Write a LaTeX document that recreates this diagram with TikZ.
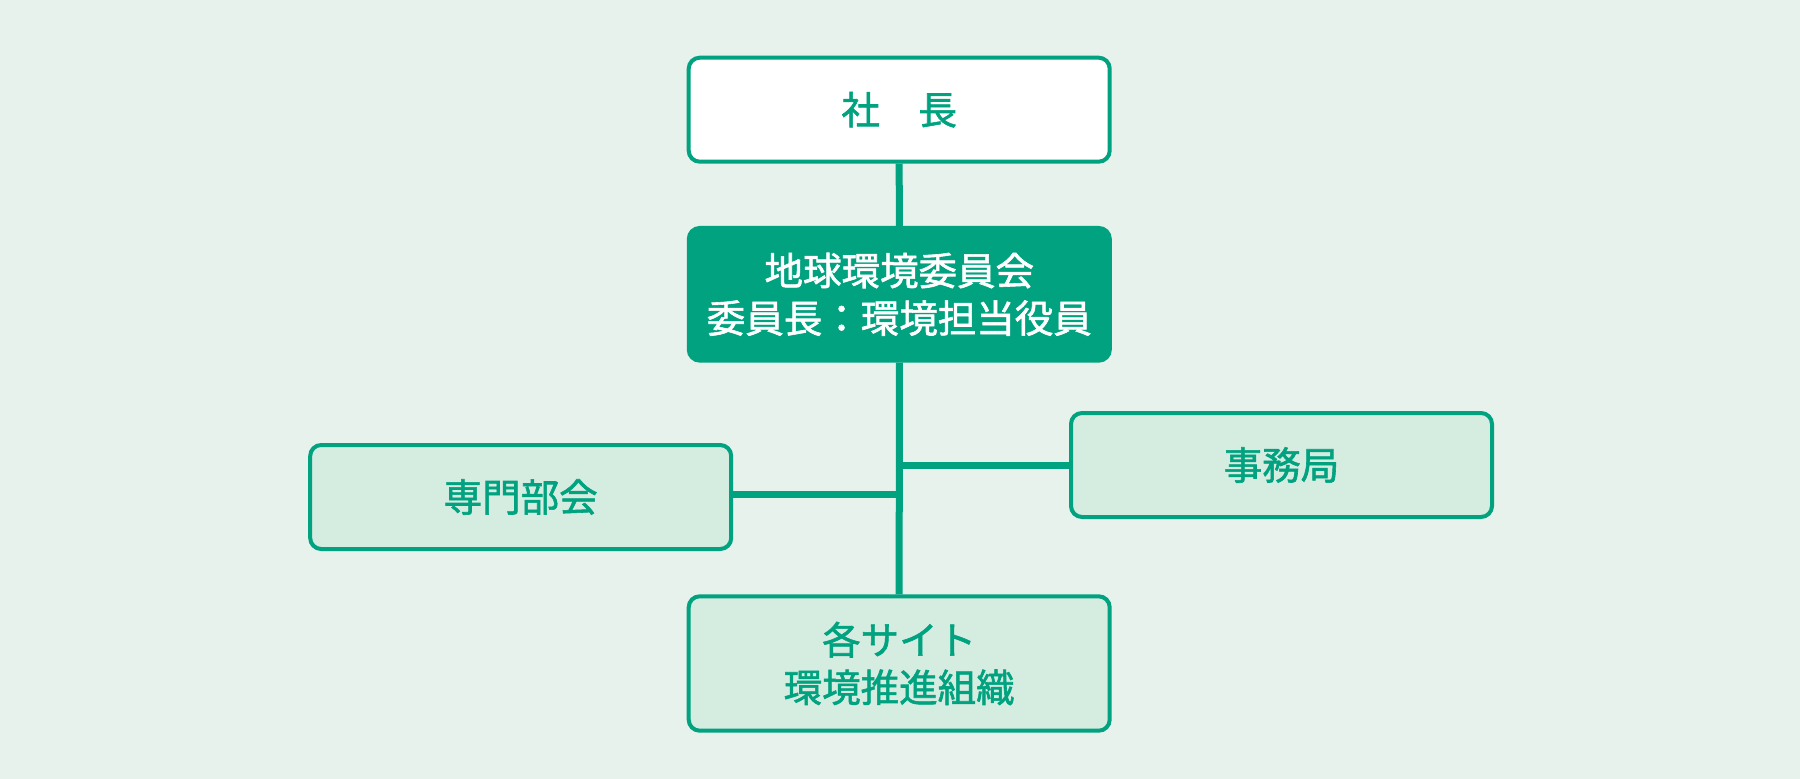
\documentclass[tikz,border=0pt]{standalone}
\usepackage{fontspec}
\setmainfont{Noto Sans CJK JP}[RawFeature={embolden=1.5}]
\definecolor{kgreen}{RGB}{0,162,127}
\definecolor{kbg}{RGB}{232,242,236}
\definecolor{kpale}{RGB}{213,236,225}
\begin{document}
\begin{tikzpicture}[x=1pt,y=-1pt,
  orgbox/.style={draw=kgreen, line width=4pt, rounded corners=11pt, minimum width=421pt, minimum height=104pt, inner sep=0pt, align=center, text=kgreen, font=\fontsize{38.5}{47.5}\selectfont},
  link/.style={draw=kgreen, line width=7pt}]
\fill[kbg] (0,0) rectangle (1800,779);
\node[orgbox, fill=white] (shachou) at (899.2,109.7){社　長};
\node[orgbox, fill=kgreen, text=white, minimum height=132.7pt] (iinkai) at (899.3,294.3){地球環境委員会\\委員長：環境担当役員};
\node[orgbox, fill=kpale] (senmon) at (520.7,497){専門部会};
\node[orgbox, fill=kpale] (jimu) at (1281.5,465){事務局};
\node[orgbox, fill=kpale, minimum height=134.4pt] (site) at (899.2,663.5){各サイト\\環境推進組織};
\draw[link](shachou) -- (iinkai);
\draw[link](iinkai) -- (site);
\draw[link](jimu.west) -- (jimu.west -| iinkai.south);
\draw[link]([yshift=2.5pt]senmon.east) -- ([yshift=2.5pt]senmon.east -| iinkai.south);
\end{tikzpicture}
\end{document}
